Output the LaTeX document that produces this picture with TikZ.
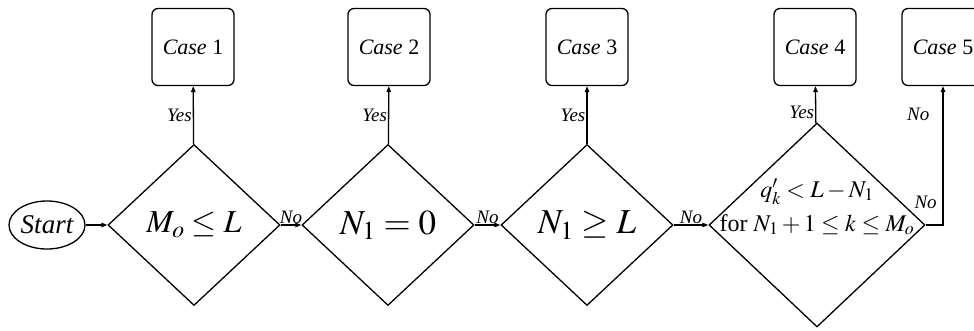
\documentclass[tikz,border=0pt]{standalone}
\usepackage{mathptmx}
\usepackage{fontspec}
\newfontfamily\timesfont{Liberation Serif}
\usetikzlibrary{arrows.meta}
\usetikzlibrary{shapes.geometric}

\begin{document}
\begin{tikzpicture}[x=1pt, y=-1pt, line width=1.3pt,
    >={Triangle[length=6pt,width=4.5pt]},
    decision/.style={diamond, draw, inner sep=0pt, aspect=1.07},
    casebox/.style={draw, rounded corners=6pt, minimum width=82pt,
        minimum height=77pt, font=\timesfont\fontsize{22}{24}\selectfont},
    lbl/.style={font=\timesfont\itshape\fontsize{19}{20}\selectfont, inner sep=1pt}]
        \useasboundingbox (0,0) rectangle (974,330);
        % start
        \node[ellipse, draw, minimum width=76pt, minimum height=48pt, inner sep=0pt,
            font=\timesfont\itshape\fontsize{27}{28}\selectfont] (start) at (47,225) {Start};
        % decisions
        \node[decision, minimum width=172pt, minimum height=161pt,
            font=\fontsize{32}{34}\selectfont] (d1) at (194,225) {$M_o \le L$};
        \node[decision, minimum width=172pt, minimum height=161pt,
            font=\fontsize{35}{38}\selectfont] (d2) at (388,225) {$N_1 = 0$};
        \node[decision, minimum width=172pt, minimum height=161pt,
            font=\fontsize{35}{38}\selectfont] (d3) at (587,225) {$N_1 \ge L$};
        \node[decision, minimum width=216pt, minimum height=204pt] (d4) at (817,225) {};
        \node[align=center, inner sep=0pt, font=\timesfont\fontsize{24}{34}\selectfont]
            (d4text) at (817,207) {$q'_k < L - N_1$\\for $N_1 + 1 \le k \le M_o$};
        % cases
        \node[casebox] (c1) at (193,47) {\textit{Case} 1};
        \node[casebox] (c2) at (389,47) {\textit{Case} 2};
        \node[casebox] (c3) at (587,47) {\textit{Case} 3};
        \node[casebox] (c4) at (815,47) {\textit{Case} 4};
        \node[casebox] (c5) at (943,47) {\textit{Case} 5};
        % connectors
        \draw[->] (start) -- (d1);
        \draw[->] (d1) -- node[lbl, above] {No} (d2);
        \draw[->] (d2) -- node[lbl, above] {No} (d3);
        \draw[->] (d3) -- node[lbl, above] {No} (d4);
        \draw[->] (d1) -- node[lbl, left] {Yes} (c1);
        \draw[->] (d2) -- node[lbl, left] {Yes} (c2);
        \draw[->] (d3) -- node[lbl, left] {Yes} (c3);
        \draw[->] (d4) -- node[lbl, left, pos=0.3] {Yes} (c4);
        \draw[->] (d4.east) -| node[lbl, pos=0, above=15pt] {No}
            node[lbl, pos=0.9, left=12pt] {No} (c5);
    \end{tikzpicture}
\end{document}
